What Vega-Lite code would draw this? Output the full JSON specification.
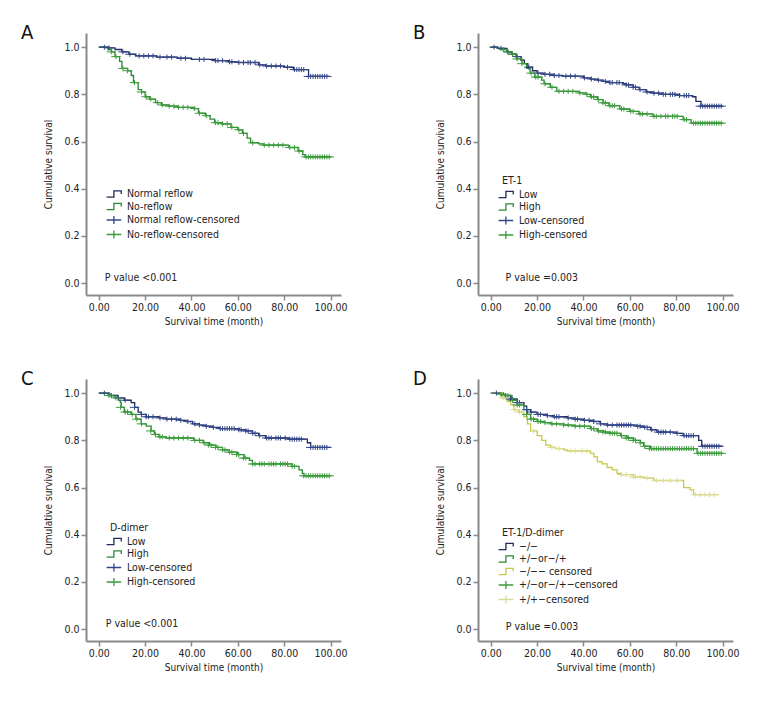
{
"$schema": "https://vega.github.io/schema/vega-lite/v6.json",
"padding": {"left": 21, "top": 23, "right": 5, "bottom": 5},
"config": {"view": {"stroke": null}, "font": "DejaVu Sans Condensed, Liberation Sans, sans-serif",
  "axis": {"grid": false, "domainColor": "#8a8a8a", "domainWidth": 2, "tickColor": "#8a8a8a", "tickWidth": 1.5, "tickSize": 5, "labelFontSize": 10.5, "titleFontSize": 10, "titleFontWeight": "normal", "labelColor": "#222", "titleColor": "#222", "labelFont": "DejaVu Sans Condensed, Liberation Sans, sans-serif", "titleFont": "DejaVu Sans Condensed, Liberation Sans, sans-serif"},
  "legend": {"labelFontSize": 10.5, "titleFontSize": 10.5, "titleFontWeight": "normal", "labelColor": "#222", "titleColor": "#222", "symbolSize": 110, "symbolStrokeWidth": 1.3, "rowPadding": 0.5, "labelOffset": 5, "titlePadding": 2, "labelFont": "DejaVu Sans Condensed, Liberation Sans, sans-serif", "titleFont": "DejaVu Sans Condensed, Liberation Sans, sans-serif"},
  "title": {"font": "DejaVu Sans Condensed, Liberation Sans, sans-serif"}
},
"columns": 2,
"spacing": {"row": 42, "column": 65},
"resolve": {"scale": {"color": "independent", "shape": "independent", "x": "independent", "y": "independent"}, "legend": {"color": "independent", "shape": "independent"}},
"datasets": {
"A_steps": [
{"k":"Normal reflow","t":0,"s":1.0},{"k":"Normal reflow","t":4,"s":0.997},{"k":"Normal reflow","t":7,"s":0.99},{"k":"Normal reflow","t":10,"s":0.98},{"k":"Normal reflow","t":13,"s":0.97},{"k":"Normal reflow","t":16,"s":0.963},{"k":"Normal reflow","t":25,"s":0.958},{"k":"Normal reflow","t":34,"s":0.953},{"k":"Normal reflow","t":40,"s":0.948},{"k":"Normal reflow","t":50,"s":0.943},{"k":"Normal reflow","t":56,"s":0.938},{"k":"Normal reflow","t":60,"s":0.935},{"k":"Normal reflow","t":69,"s":0.925},{"k":"Normal reflow","t":72,"s":0.92},{"k":"Normal reflow","t":80,"s":0.915},{"k":"Normal reflow","t":84,"s":0.905},{"k":"Normal reflow","t":90.5,"s":0.876},{"k":"Normal reflow","t":99.5,"s":0.876},
{"k":"No-reflow","t":0,"s":1.0},{"k":"No-reflow","t":4,"s":0.99},{"k":"No-reflow","t":5.5,"s":0.98},{"k":"No-reflow","t":7,"s":0.96},{"k":"No-reflow","t":9,"s":0.94},{"k":"No-reflow","t":10,"s":0.91},{"k":"No-reflow","t":12.5,"s":0.9},{"k":"No-reflow","t":14,"s":0.88},{"k":"No-reflow","t":15,"s":0.85},{"k":"No-reflow","t":17,"s":0.82},{"k":"No-reflow","t":18.5,"s":0.81},{"k":"No-reflow","t":20,"s":0.79},{"k":"No-reflow","t":22,"s":0.78},{"k":"No-reflow","t":24.5,"s":0.765},{"k":"No-reflow","t":27,"s":0.755},{"k":"No-reflow","t":30,"s":0.75},{"k":"No-reflow","t":34,"s":0.745},{"k":"No-reflow","t":41,"s":0.74},{"k":"No-reflow","t":43,"s":0.72},{"k":"No-reflow","t":46,"s":0.71},{"k":"No-reflow","t":48,"s":0.695},{"k":"No-reflow","t":50,"s":0.68},{"k":"No-reflow","t":53,"s":0.675},{"k":"No-reflow","t":57,"s":0.66},{"k":"No-reflow","t":60,"s":0.65},{"k":"No-reflow","t":62,"s":0.635},{"k":"No-reflow","t":64,"s":0.615},{"k":"No-reflow","t":65.5,"s":0.595},{"k":"No-reflow","t":69,"s":0.59},{"k":"No-reflow","t":71,"s":0.585},{"k":"No-reflow","t":82,"s":0.575},{"k":"No-reflow","t":86,"s":0.56},{"k":"No-reflow","t":88,"s":0.545},{"k":"No-reflow","t":89,"s":0.535},{"k":"No-reflow","t":100,"s":0.535}
],
"A_cens": [
{"k":"Normal reflow-censored","t":3,"s":1.0},{"k":"Normal reflow-censored","t":5,"s":0.997},{"k":"Normal reflow-censored","t":11,"s":0.98},{"k":"Normal reflow-censored","t":14,"s":0.97},{"k":"Normal reflow-censored","t":18,"s":0.963},{"k":"Normal reflow-censored","t":20,"s":0.963},{"k":"Normal reflow-censored","t":22,"s":0.963},{"k":"Normal reflow-censored","t":24,"s":0.963},{"k":"Normal reflow-censored","t":27,"s":0.958},{"k":"Normal reflow-censored","t":30,"s":0.958},{"k":"Normal reflow-censored","t":32,"s":0.958},{"k":"Normal reflow-censored","t":36,"s":0.953},{"k":"Normal reflow-censored","t":38,"s":0.953},{"k":"Normal reflow-censored","t":44,"s":0.948},{"k":"Normal reflow-censored","t":46,"s":0.948},{"k":"Normal reflow-censored","t":51,"s":0.943},{"k":"Normal reflow-censored","t":52,"s":0.943},{"k":"Normal reflow-censored","t":54,"s":0.943},{"k":"Normal reflow-censored","t":57,"s":0.938},{"k":"Normal reflow-censored","t":58,"s":0.938},{"k":"Normal reflow-censored","t":61,"s":0.935},{"k":"Normal reflow-censored","t":63,"s":0.935},{"k":"Normal reflow-censored","t":65,"s":0.935},{"k":"Normal reflow-censored","t":66,"s":0.935},{"k":"Normal reflow-censored","t":68,"s":0.935},{"k":"Normal reflow-censored","t":70,"s":0.925},{"k":"Normal reflow-censored","t":73,"s":0.92},{"k":"Normal reflow-censored","t":75,"s":0.92},{"k":"Normal reflow-censored","t":77,"s":0.92},{"k":"Normal reflow-censored","t":79,"s":0.92},{"k":"Normal reflow-censored","t":82,"s":0.915},{"k":"Normal reflow-censored","t":85,"s":0.905},{"k":"Normal reflow-censored","t":86,"s":0.905},{"k":"Normal reflow-censored","t":87,"s":0.905},{"k":"Normal reflow-censored","t":88,"s":0.905},{"k":"Normal reflow-censored","t":89,"s":0.905},{"k":"Normal reflow-censored","t":91,"s":0.876},{"k":"Normal reflow-censored","t":92,"s":0.876},{"k":"Normal reflow-censored","t":93,"s":0.876},{"k":"Normal reflow-censored","t":94,"s":0.876},{"k":"Normal reflow-censored","t":95,"s":0.876},{"k":"Normal reflow-censored","t":96,"s":0.876},{"k":"Normal reflow-censored","t":97,"s":0.876},{"k":"Normal reflow-censored","t":98,"s":0.876},{"k":"Normal reflow-censored","t":99,"s":0.876},
{"k":"No-reflow-censored","t":6,"s":0.98},{"k":"No-reflow-censored","t":8,"s":0.96},{"k":"No-reflow-censored","t":11,"s":0.91},{"k":"No-reflow-censored","t":13,"s":0.9},{"k":"No-reflow-censored","t":16,"s":0.85},{"k":"No-reflow-censored","t":19,"s":0.81},{"k":"No-reflow-censored","t":21,"s":0.79},{"k":"No-reflow-censored","t":23,"s":0.78},{"k":"No-reflow-censored","t":26,"s":0.765},{"k":"No-reflow-censored","t":28,"s":0.755},{"k":"No-reflow-censored","t":31,"s":0.75},{"k":"No-reflow-censored","t":33,"s":0.75},{"k":"No-reflow-censored","t":35,"s":0.745},{"k":"No-reflow-censored","t":37,"s":0.745},{"k":"No-reflow-censored","t":39,"s":0.745},{"k":"No-reflow-censored","t":42,"s":0.74},{"k":"No-reflow-censored","t":44,"s":0.72},{"k":"No-reflow-censored","t":47,"s":0.71},{"k":"No-reflow-censored","t":51,"s":0.68},{"k":"No-reflow-censored","t":52,"s":0.68},{"k":"No-reflow-censored","t":54,"s":0.675},{"k":"No-reflow-censored","t":56,"s":0.675},{"k":"No-reflow-censored","t":58,"s":0.66},{"k":"No-reflow-censored","t":61,"s":0.65},{"k":"No-reflow-censored","t":63,"s":0.635},{"k":"No-reflow-censored","t":67,"s":0.595},{"k":"No-reflow-censored","t":72,"s":0.585},{"k":"No-reflow-censored","t":74,"s":0.585},{"k":"No-reflow-censored","t":76,"s":0.585},{"k":"No-reflow-censored","t":78,"s":0.585},{"k":"No-reflow-censored","t":80,"s":0.585},{"k":"No-reflow-censored","t":83,"s":0.575},{"k":"No-reflow-censored","t":85,"s":0.575},{"k":"No-reflow-censored","t":87,"s":0.56},{"k":"No-reflow-censored","t":90,"s":0.535},{"k":"No-reflow-censored","t":91,"s":0.535},{"k":"No-reflow-censored","t":92,"s":0.535},{"k":"No-reflow-censored","t":93,"s":0.535},{"k":"No-reflow-censored","t":94,"s":0.535},{"k":"No-reflow-censored","t":95,"s":0.535},{"k":"No-reflow-censored","t":96,"s":0.535},{"k":"No-reflow-censored","t":97,"s":0.535},{"k":"No-reflow-censored","t":98,"s":0.535},{"k":"No-reflow-censored","t":99,"s":0.535},{"k":"No-reflow-censored","t":100,"s":0.535}
],
"B_steps": [
{"k":"Low","t":0,"s":1.0},{"k":"Low","t":3,"s":0.995},{"k":"Low","t":7,"s":0.98},{"k":"Low","t":9,"s":0.97},{"k":"Low","t":11,"s":0.96},{"k":"Low","t":13,"s":0.945},{"k":"Low","t":14.5,"s":0.93},{"k":"Low","t":16,"s":0.915},{"k":"Low","t":18,"s":0.9},{"k":"Low","t":20,"s":0.89},{"k":"Low","t":23,"s":0.885},{"k":"Low","t":27,"s":0.88},{"k":"Low","t":31,"s":0.877},{"k":"Low","t":40,"s":0.87},{"k":"Low","t":43,"s":0.865},{"k":"Low","t":46,"s":0.86},{"k":"Low","t":48.5,"s":0.855},{"k":"Low","t":51,"s":0.85},{"k":"Low","t":57,"s":0.845},{"k":"Low","t":58.5,"s":0.84},{"k":"Low","t":61.5,"s":0.83},{"k":"Low","t":64,"s":0.82},{"k":"Low","t":67,"s":0.81},{"k":"Low","t":70,"s":0.805},{"k":"Low","t":74,"s":0.8},{"k":"Low","t":81.5,"s":0.795},{"k":"Low","t":87,"s":0.79},{"k":"Low","t":88.5,"s":0.77},{"k":"Low","t":90.7,"s":0.75},{"k":"Low","t":100,"s":0.75},
{"k":"High","t":0,"s":1.0},{"k":"High","t":3,"s":0.995},{"k":"High","t":5,"s":0.99},{"k":"High","t":7,"s":0.98},{"k":"High","t":9,"s":0.97},{"k":"High","t":11,"s":0.95},{"k":"High","t":13.5,"s":0.93},{"k":"High","t":15.5,"s":0.91},{"k":"High","t":17,"s":0.89},{"k":"High","t":19,"s":0.873},{"k":"High","t":22,"s":0.86},{"k":"High","t":23,"s":0.845},{"k":"High","t":25.7,"s":0.83},{"k":"High","t":28.5,"s":0.813},{"k":"High","t":38,"s":0.806},{"k":"High","t":41,"s":0.8},{"k":"High","t":43,"s":0.79},{"k":"High","t":46,"s":0.778},{"k":"High","t":48.5,"s":0.764},{"k":"High","t":51,"s":0.752},{"k":"High","t":55.7,"s":0.738},{"k":"High","t":60,"s":0.728},{"k":"High","t":64,"s":0.717},{"k":"High","t":70,"s":0.707},{"k":"High","t":83,"s":0.693},{"k":"High","t":86.4,"s":0.678},{"k":"High","t":100,"s":0.678}
],
"B_cens": [
{"k":"Low-censored","t":2,"s":1.0},{"k":"Low-censored","t":5,"s":0.995},{"k":"Low-censored","t":8,"s":0.98},{"k":"Low-censored","t":10,"s":0.97},{"k":"Low-censored","t":12,"s":0.96},{"k":"Low-censored","t":17,"s":0.915},{"k":"Low-censored","t":21,"s":0.89},{"k":"Low-censored","t":24,"s":0.885},{"k":"Low-censored","t":26,"s":0.885},{"k":"Low-censored","t":28,"s":0.88},{"k":"Low-censored","t":30,"s":0.88},{"k":"Low-censored","t":33,"s":0.877},{"k":"Low-censored","t":35,"s":0.877},{"k":"Low-censored","t":37,"s":0.877},{"k":"Low-censored","t":41,"s":0.87},{"k":"Low-censored","t":44,"s":0.865},{"k":"Low-censored","t":47,"s":0.86},{"k":"Low-censored","t":50,"s":0.855},{"k":"Low-censored","t":52,"s":0.85},{"k":"Low-censored","t":53,"s":0.85},{"k":"Low-censored","t":55,"s":0.85},{"k":"Low-censored","t":56,"s":0.85},{"k":"Low-censored","t":59,"s":0.84},{"k":"Low-censored","t":60,"s":0.84},{"k":"Low-censored","t":62,"s":0.83},{"k":"Low-censored","t":63,"s":0.83},{"k":"Low-censored","t":65,"s":0.82},{"k":"Low-censored","t":68,"s":0.81},{"k":"Low-censored","t":71,"s":0.805},{"k":"Low-censored","t":73,"s":0.805},{"k":"Low-censored","t":75,"s":0.8},{"k":"Low-censored","t":76,"s":0.8},{"k":"Low-censored","t":78,"s":0.8},{"k":"Low-censored","t":79,"s":0.8},{"k":"Low-censored","t":80,"s":0.8},{"k":"Low-censored","t":82,"s":0.795},{"k":"Low-censored","t":84,"s":0.795},{"k":"Low-censored","t":85,"s":0.795},{"k":"Low-censored","t":86,"s":0.795},{"k":"Low-censored","t":91,"s":0.75},{"k":"Low-censored","t":92,"s":0.75},{"k":"Low-censored","t":93,"s":0.75},{"k":"Low-censored","t":94,"s":0.75},{"k":"Low-censored","t":95,"s":0.75},{"k":"Low-censored","t":96,"s":0.75},{"k":"Low-censored","t":97,"s":0.75},{"k":"Low-censored","t":98,"s":0.75},{"k":"Low-censored","t":99,"s":0.75},{"k":"Low-censored","t":100,"s":0.75},
{"k":"High-censored","t":6,"s":0.99},{"k":"High-censored","t":8,"s":0.98},{"k":"High-censored","t":10,"s":0.97},{"k":"High-censored","t":12,"s":0.95},{"k":"High-censored","t":14,"s":0.93},{"k":"High-censored","t":18,"s":0.89},{"k":"High-censored","t":20,"s":0.873},{"k":"High-censored","t":21,"s":0.873},{"k":"High-censored","t":24,"s":0.845},{"k":"High-censored","t":27,"s":0.83},{"k":"High-censored","t":30,"s":0.813},{"k":"High-censored","t":32,"s":0.813},{"k":"High-censored","t":34,"s":0.813},{"k":"High-censored","t":36,"s":0.813},{"k":"High-censored","t":39,"s":0.806},{"k":"High-censored","t":42,"s":0.8},{"k":"High-censored","t":44,"s":0.79},{"k":"High-censored","t":45,"s":0.79},{"k":"High-censored","t":47,"s":0.778},{"k":"High-censored","t":49,"s":0.764},{"k":"High-censored","t":50,"s":0.764},{"k":"High-censored","t":52,"s":0.752},{"k":"High-censored","t":53,"s":0.752},{"k":"High-censored","t":54,"s":0.752},{"k":"High-censored","t":57,"s":0.738},{"k":"High-censored","t":58,"s":0.738},{"k":"High-censored","t":61,"s":0.728},{"k":"High-censored","t":62,"s":0.728},{"k":"High-censored","t":65,"s":0.717},{"k":"High-censored","t":66,"s":0.717},{"k":"High-censored","t":68,"s":0.717},{"k":"High-censored","t":71,"s":0.707},{"k":"High-censored","t":72,"s":0.707},{"k":"High-censored","t":74,"s":0.707},{"k":"High-censored","t":76,"s":0.707},{"k":"High-censored","t":77,"s":0.707},{"k":"High-censored","t":79,"s":0.707},{"k":"High-censored","t":80,"s":0.707},{"k":"High-censored","t":81,"s":0.707},{"k":"High-censored","t":84,"s":0.693},{"k":"High-censored","t":85,"s":0.693},{"k":"High-censored","t":88,"s":0.678},{"k":"High-censored","t":89,"s":0.678},{"k":"High-censored","t":90,"s":0.678},{"k":"High-censored","t":91,"s":0.678},{"k":"High-censored","t":92,"s":0.678},{"k":"High-censored","t":93,"s":0.678},{"k":"High-censored","t":94,"s":0.678},{"k":"High-censored","t":95,"s":0.678},{"k":"High-censored","t":96,"s":0.678},{"k":"High-censored","t":97,"s":0.678},{"k":"High-censored","t":98,"s":0.678},{"k":"High-censored","t":99,"s":0.678},{"k":"High-censored","t":100,"s":0.678}
],
"C_steps": [
{"k":"Low","t":0,"s":1.0},{"k":"Low","t":4.7,"s":0.99},{"k":"Low","t":8.3,"s":0.98},{"k":"Low","t":11,"s":0.97},{"k":"Low","t":14,"s":0.96},{"k":"Low","t":15.5,"s":0.94},{"k":"Low","t":17,"s":0.92},{"k":"Low","t":18.3,"s":0.91},{"k":"Low","t":20.5,"s":0.9},{"k":"Low","t":26,"s":0.895},{"k":"Low","t":29,"s":0.89},{"k":"Low","t":35,"s":0.885},{"k":"Low","t":37.7,"s":0.88},{"k":"Low","t":40.5,"s":0.87},{"k":"Low","t":43.4,"s":0.865},{"k":"Low","t":46,"s":0.86},{"k":"Low","t":49,"s":0.855},{"k":"Low","t":52,"s":0.85},{"k":"Low","t":60.6,"s":0.845},{"k":"Low","t":63.5,"s":0.84},{"k":"Low","t":66.3,"s":0.83},{"k":"Low","t":69,"s":0.82},{"k":"Low","t":72,"s":0.81},{"k":"Low","t":82,"s":0.805},{"k":"Low","t":90,"s":0.79},{"k":"Low","t":91.4,"s":0.77},{"k":"Low","t":100,"s":0.77},
{"k":"High","t":0,"s":1.0},{"k":"High","t":4,"s":0.99},{"k":"High","t":7,"s":0.98},{"k":"High","t":8.5,"s":0.97},{"k":"High","t":9.3,"s":0.96},{"k":"High","t":9.7,"s":0.94},{"k":"High","t":11,"s":0.92},{"k":"High","t":14,"s":0.91},{"k":"High","t":16,"s":0.89},{"k":"High","t":18.3,"s":0.87},{"k":"High","t":20.5,"s":0.86},{"k":"High","t":22.6,"s":0.84},{"k":"High","t":24,"s":0.825},{"k":"High","t":26,"s":0.815},{"k":"High","t":29,"s":0.81},{"k":"High","t":41,"s":0.8},{"k":"High","t":45,"s":0.79},{"k":"High","t":47.7,"s":0.78},{"k":"High","t":50.6,"s":0.77},{"k":"High","t":53.4,"s":0.76},{"k":"High","t":56.3,"s":0.75},{"k":"High","t":59.9,"s":0.74},{"k":"High","t":62.7,"s":0.725},{"k":"High","t":65,"s":0.715},{"k":"High","t":66.3,"s":0.7},{"k":"High","t":83.5,"s":0.69},{"k":"High","t":86.4,"s":0.675},{"k":"High","t":87.8,"s":0.66},{"k":"High","t":88.5,"s":0.65},{"k":"High","t":100,"s":0.65}
],
"C_cens": [
{"k":"Low-censored","t":3,"s":1.0},{"k":"Low-censored","t":6,"s":0.99},{"k":"Low-censored","t":9,"s":0.98},{"k":"Low-censored","t":12,"s":0.97},{"k":"Low-censored","t":16,"s":0.94},{"k":"Low-censored","t":19,"s":0.91},{"k":"Low-censored","t":21,"s":0.9},{"k":"Low-censored","t":22,"s":0.9},{"k":"Low-censored","t":24,"s":0.9},{"k":"Low-censored","t":27,"s":0.895},{"k":"Low-censored","t":30,"s":0.89},{"k":"Low-censored","t":32,"s":0.89},{"k":"Low-censored","t":34,"s":0.89},{"k":"Low-censored","t":36,"s":0.885},{"k":"Low-censored","t":39,"s":0.88},{"k":"Low-censored","t":42,"s":0.87},{"k":"Low-censored","t":44,"s":0.865},{"k":"Low-censored","t":47,"s":0.86},{"k":"Low-censored","t":50,"s":0.855},{"k":"Low-censored","t":53,"s":0.85},{"k":"Low-censored","t":54,"s":0.85},{"k":"Low-censored","t":55,"s":0.85},{"k":"Low-censored","t":56,"s":0.85},{"k":"Low-censored","t":57,"s":0.85},{"k":"Low-censored","t":58,"s":0.85},{"k":"Low-censored","t":59,"s":0.85},{"k":"Low-censored","t":61,"s":0.845},{"k":"Low-censored","t":62,"s":0.845},{"k":"Low-censored","t":64,"s":0.84},{"k":"Low-censored","t":65,"s":0.84},{"k":"Low-censored","t":67,"s":0.83},{"k":"Low-censored","t":68,"s":0.83},{"k":"Low-censored","t":70,"s":0.82},{"k":"Low-censored","t":73,"s":0.81},{"k":"Low-censored","t":74,"s":0.81},{"k":"Low-censored","t":75,"s":0.81},{"k":"Low-censored","t":77,"s":0.81},{"k":"Low-censored","t":78,"s":0.81},{"k":"Low-censored","t":79,"s":0.81},{"k":"Low-censored","t":81,"s":0.81},{"k":"Low-censored","t":83,"s":0.805},{"k":"Low-censored","t":84,"s":0.805},{"k":"Low-censored","t":85,"s":0.805},{"k":"Low-censored","t":86,"s":0.805},{"k":"Low-censored","t":87,"s":0.805},{"k":"Low-censored","t":88,"s":0.805},{"k":"Low-censored","t":92,"s":0.77},{"k":"Low-censored","t":93,"s":0.77},{"k":"Low-censored","t":94,"s":0.77},{"k":"Low-censored","t":95,"s":0.77},{"k":"Low-censored","t":96,"s":0.77},{"k":"Low-censored","t":97,"s":0.77},{"k":"Low-censored","t":98,"s":0.77},{"k":"Low-censored","t":99,"s":0.77},
{"k":"High-censored","t":5,"s":0.99},{"k":"High-censored","t":8,"s":0.98},{"k":"High-censored","t":10,"s":0.94},{"k":"High-censored","t":12,"s":0.92},{"k":"High-censored","t":13,"s":0.92},{"k":"High-censored","t":15,"s":0.91},{"k":"High-censored","t":17,"s":0.89},{"k":"High-censored","t":19,"s":0.87},{"k":"High-censored","t":23,"s":0.84},{"k":"High-censored","t":25,"s":0.825},{"k":"High-censored","t":27,"s":0.815},{"k":"High-censored","t":28,"s":0.815},{"k":"High-censored","t":31,"s":0.81},{"k":"High-censored","t":33,"s":0.81},{"k":"High-censored","t":35,"s":0.81},{"k":"High-censored","t":37,"s":0.81},{"k":"High-censored","t":39,"s":0.81},{"k":"High-censored","t":42,"s":0.8},{"k":"High-censored","t":44,"s":0.8},{"k":"High-censored","t":46,"s":0.79},{"k":"High-censored","t":48,"s":0.78},{"k":"High-censored","t":49,"s":0.78},{"k":"High-censored","t":51,"s":0.77},{"k":"High-censored","t":52,"s":0.77},{"k":"High-censored","t":54,"s":0.76},{"k":"High-censored","t":55,"s":0.76},{"k":"High-censored","t":57,"s":0.75},{"k":"High-censored","t":58,"s":0.75},{"k":"High-censored","t":60,"s":0.74},{"k":"High-censored","t":61,"s":0.74},{"k":"High-censored","t":63,"s":0.725},{"k":"High-censored","t":64,"s":0.725},{"k":"High-censored","t":67,"s":0.7},{"k":"High-censored","t":68,"s":0.7},{"k":"High-censored","t":70,"s":0.7},{"k":"High-censored","t":71,"s":0.7},{"k":"High-censored","t":72,"s":0.7},{"k":"High-censored","t":74,"s":0.7},{"k":"High-censored","t":75,"s":0.7},{"k":"High-censored","t":76,"s":0.7},{"k":"High-censored","t":77,"s":0.7},{"k":"High-censored","t":79,"s":0.7},{"k":"High-censored","t":80,"s":0.7},{"k":"High-censored","t":81,"s":0.7},{"k":"High-censored","t":82,"s":0.7},{"k":"High-censored","t":84,"s":0.69},{"k":"High-censored","t":85,"s":0.69},{"k":"High-censored","t":89,"s":0.65},{"k":"High-censored","t":90,"s":0.65},{"k":"High-censored","t":91,"s":0.65},{"k":"High-censored","t":92,"s":0.65},{"k":"High-censored","t":93,"s":0.65},{"k":"High-censored","t":94,"s":0.65},{"k":"High-censored","t":95,"s":0.65},{"k":"High-censored","t":96,"s":0.65},{"k":"High-censored","t":97,"s":0.65},{"k":"High-censored","t":98,"s":0.65},{"k":"High-censored","t":99,"s":0.65},{"k":"High-censored","t":100,"s":0.65}
],
"D_steps": [
{"k":"−/−","t":0,"s":1.0},{"k":"−/−","t":5.5,"s":0.99},{"k":"−/−","t":8.6,"s":0.975},{"k":"−/−","t":11.5,"s":0.96},{"k":"−/−","t":14.3,"s":0.945},{"k":"−/−","t":15.5,"s":0.93},{"k":"−/−","t":17.2,"s":0.92},{"k":"−/−","t":20,"s":0.91},{"k":"−/−","t":24,"s":0.905},{"k":"−/−","t":27,"s":0.9},{"k":"−/−","t":33,"s":0.895},{"k":"−/−","t":36,"s":0.89},{"k":"−/−","t":40,"s":0.885},{"k":"−/−","t":44.5,"s":0.88},{"k":"−/−","t":47.3,"s":0.87},{"k":"−/−","t":50,"s":0.865},{"k":"−/−","t":63,"s":0.86},{"k":"−/−","t":66,"s":0.855},{"k":"−/−","t":69,"s":0.845},{"k":"−/−","t":71.7,"s":0.835},{"k":"−/−","t":80,"s":0.83},{"k":"−/−","t":83,"s":0.82},{"k":"−/−","t":89.7,"s":0.8},{"k":"−/−","t":91,"s":0.775},{"k":"−/−","t":100,"s":0.775},
{"k":"+/−or−/+","t":0,"s":1.0},{"k":"+/−or−/+","t":4,"s":0.995},{"k":"+/−or−/+","t":6,"s":0.99},{"k":"+/−or−/+","t":9,"s":0.97},{"k":"+/−or−/+","t":11.5,"s":0.95},{"k":"+/−or−/+","t":14.3,"s":0.93},{"k":"+/−or−/+","t":15.8,"s":0.91},{"k":"+/−or−/+","t":17.2,"s":0.89},{"k":"+/−or−/+","t":20,"s":0.88},{"k":"+/−or−/+","t":23,"s":0.875},{"k":"+/−or−/+","t":26,"s":0.87},{"k":"+/−or−/+","t":31.6,"s":0.865},{"k":"+/−or−/+","t":36,"s":0.86},{"k":"+/−or−/+","t":43,"s":0.85},{"k":"+/−or−/+","t":46,"s":0.84},{"k":"+/−or−/+","t":48.8,"s":0.835},{"k":"+/−or−/+","t":51.6,"s":0.83},{"k":"+/−or−/+","t":56,"s":0.82},{"k":"+/−or−/+","t":58.8,"s":0.81},{"k":"+/−or−/+","t":61.7,"s":0.8},{"k":"+/−or−/+","t":64.6,"s":0.79},{"k":"+/−or−/+","t":66,"s":0.775},{"k":"+/−or−/+","t":68.9,"s":0.765},{"k":"+/−or−/+","t":89,"s":0.745},{"k":"+/−or−/+","t":100,"s":0.745},
{"k":"−/−− censored","t":0,"s":1.0},{"k":"−/−− censored","t":5,"s":0.98},{"k":"−/−− censored","t":7,"s":0.965},{"k":"−/−− censored","t":8.6,"s":0.95},{"k":"−/−− censored","t":10,"s":0.93},{"k":"−/−− censored","t":12,"s":0.92},{"k":"−/−− censored","t":14.3,"s":0.9},{"k":"−/−− censored","t":15.8,"s":0.87},{"k":"−/−− censored","t":17.2,"s":0.84},{"k":"−/−− censored","t":20,"s":0.82},{"k":"−/−− censored","t":22,"s":0.8},{"k":"−/−− censored","t":23.7,"s":0.78},{"k":"−/−− censored","t":25.8,"s":0.77},{"k":"−/−− censored","t":28,"s":0.765},{"k":"−/−− censored","t":31.6,"s":0.76},{"k":"−/−− censored","t":33,"s":0.755},{"k":"−/−− censored","t":43,"s":0.745},{"k":"−/−− censored","t":44.5,"s":0.73},{"k":"−/−− censored","t":46,"s":0.71},{"k":"−/−− censored","t":48,"s":0.7},{"k":"−/−− censored","t":50.2,"s":0.685},{"k":"−/−− censored","t":52.4,"s":0.675},{"k":"−/−− censored","t":54.5,"s":0.66},{"k":"−/−− censored","t":56,"s":0.655},{"k":"−/−− censored","t":61.7,"s":0.645},{"k":"−/−− censored","t":66,"s":0.64},{"k":"−/−− censored","t":70.3,"s":0.63},{"k":"−/−− censored","t":83.2,"s":0.6},{"k":"−/−− censored","t":86,"s":0.59},{"k":"−/−− censored","t":87.5,"s":0.57},{"k":"−/−− censored","t":98.3,"s":0.57}
],
"D_cens": [
{"k":"−/−−censored","t":3,"s":1.0},{"k":"−/−−censored","t":7,"s":0.99},{"k":"−/−−censored","t":9,"s":0.975},{"k":"−/−−censored","t":10,"s":0.975},{"k":"−/−−censored","t":12,"s":0.96},{"k":"−/−−censored","t":13,"s":0.96},{"k":"−/−−censored","t":16,"s":0.93},{"k":"−/−−censored","t":18,"s":0.92},{"k":"−/−−censored","t":21,"s":0.91},{"k":"−/−−censored","t":22,"s":0.91},{"k":"−/−−censored","t":25,"s":0.905},{"k":"−/−−censored","t":28,"s":0.9},{"k":"−/−−censored","t":29,"s":0.9},{"k":"−/−−censored","t":30,"s":0.9},{"k":"−/−−censored","t":34,"s":0.895},{"k":"−/−−censored","t":37,"s":0.89},{"k":"−/−−censored","t":38,"s":0.89},{"k":"−/−−censored","t":41,"s":0.885},{"k":"−/−−censored","t":43,"s":0.885},{"k":"−/−−censored","t":45,"s":0.88},{"k":"−/−−censored","t":48,"s":0.87},{"k":"−/−−censored","t":51,"s":0.865},{"k":"−/−−censored","t":53,"s":0.865},{"k":"−/−−censored","t":55,"s":0.865},{"k":"−/−−censored","t":56,"s":0.865},{"k":"−/−−censored","t":57,"s":0.865},{"k":"−/−−censored","t":58,"s":0.865},{"k":"−/−−censored","t":59,"s":0.865},{"k":"−/−−censored","t":60,"s":0.865},{"k":"−/−−censored","t":61,"s":0.865},{"k":"−/−−censored","t":64,"s":0.86},{"k":"−/−−censored","t":65,"s":0.86},{"k":"−/−−censored","t":67,"s":0.855},{"k":"−/−−censored","t":68,"s":0.855},{"k":"−/−−censored","t":70,"s":0.845},{"k":"−/−−censored","t":73,"s":0.835},{"k":"−/−−censored","t":74,"s":0.835},{"k":"−/−−censored","t":75,"s":0.835},{"k":"−/−−censored","t":76,"s":0.835},{"k":"−/−−censored","t":78,"s":0.835},{"k":"−/−−censored","t":81,"s":0.83},{"k":"−/−−censored","t":84,"s":0.82},{"k":"−/−−censored","t":85,"s":0.82},{"k":"−/−−censored","t":86,"s":0.82},{"k":"−/−−censored","t":87,"s":0.82},{"k":"−/−−censored","t":88,"s":0.82},{"k":"−/−−censored","t":92,"s":0.775},{"k":"−/−−censored","t":93,"s":0.775},{"k":"−/−−censored","t":94,"s":0.775},{"k":"−/−−censored","t":95,"s":0.775},{"k":"−/−−censored","t":96,"s":0.775},{"k":"−/−−censored","t":97,"s":0.775},{"k":"−/−−censored","t":98,"s":0.775},{"k":"−/−−censored","t":99,"s":0.775},
{"k":"+/−or−/+−censored","t":5,"s":0.995},{"k":"+/−or−/+−censored","t":7,"s":0.99},{"k":"+/−or−/+−censored","t":8,"s":0.99},{"k":"+/−or−/+−censored","t":10,"s":0.97},{"k":"+/−or−/+−censored","t":12,"s":0.95},{"k":"+/−or−/+−censored","t":13,"s":0.95},{"k":"+/−or−/+−censored","t":16,"s":0.91},{"k":"+/−or−/+−censored","t":18,"s":0.89},{"k":"+/−or−/+−censored","t":19,"s":0.89},{"k":"+/−or−/+−censored","t":21,"s":0.88},{"k":"+/−or−/+−censored","t":22,"s":0.88},{"k":"+/−or−/+−censored","t":24,"s":0.875},{"k":"+/−or−/+−censored","t":27,"s":0.87},{"k":"+/−or−/+−censored","t":29,"s":0.87},{"k":"+/−or−/+−censored","t":32,"s":0.865},{"k":"+/−or−/+−censored","t":34,"s":0.865},{"k":"+/−or−/+−censored","t":37,"s":0.86},{"k":"+/−or−/+−censored","t":39,"s":0.86},{"k":"+/−or−/+−censored","t":41,"s":0.86},{"k":"+/−or−/+−censored","t":44,"s":0.85},{"k":"+/−or−/+−censored","t":45,"s":0.85},{"k":"+/−or−/+−censored","t":47,"s":0.84},{"k":"+/−or−/+−censored","t":49,"s":0.835},{"k":"+/−or−/+−censored","t":50,"s":0.835},{"k":"+/−or−/+−censored","t":52,"s":0.83},{"k":"+/−or−/+−censored","t":53,"s":0.83},{"k":"+/−or−/+−censored","t":54,"s":0.83},{"k":"+/−or−/+−censored","t":55,"s":0.83},{"k":"+/−or−/+−censored","t":57,"s":0.82},{"k":"+/−or−/+−censored","t":59,"s":0.81},{"k":"+/−or−/+−censored","t":60,"s":0.81},{"k":"+/−or−/+−censored","t":62,"s":0.8},{"k":"+/−or−/+−censored","t":63,"s":0.8},{"k":"+/−or−/+−censored","t":65,"s":0.79},{"k":"+/−or−/+−censored","t":67,"s":0.775},{"k":"+/−or−/+−censored","t":69,"s":0.765},{"k":"+/−or−/+−censored","t":70,"s":0.765},{"k":"+/−or−/+−censored","t":71,"s":0.765},{"k":"+/−or−/+−censored","t":72,"s":0.765},{"k":"+/−or−/+−censored","t":73,"s":0.765},{"k":"+/−or−/+−censored","t":74,"s":0.765},{"k":"+/−or−/+−censored","t":75,"s":0.765},{"k":"+/−or−/+−censored","t":76,"s":0.765},{"k":"+/−or−/+−censored","t":77,"s":0.765},{"k":"+/−or−/+−censored","t":78,"s":0.765},{"k":"+/−or−/+−censored","t":79,"s":0.765},{"k":"+/−or−/+−censored","t":80,"s":0.765},{"k":"+/−or−/+−censored","t":81,"s":0.765},{"k":"+/−or−/+−censored","t":82,"s":0.765},{"k":"+/−or−/+−censored","t":83,"s":0.765},{"k":"+/−or−/+−censored","t":84,"s":0.765},{"k":"+/−or−/+−censored","t":85,"s":0.765},{"k":"+/−or−/+−censored","t":86,"s":0.765},{"k":"+/−or−/+−censored","t":87,"s":0.765},{"k":"+/−or−/+−censored","t":88,"s":0.765},{"k":"+/−or−/+−censored","t":90,"s":0.745},{"k":"+/−or−/+−censored","t":91,"s":0.745},{"k":"+/−or−/+−censored","t":92,"s":0.745},{"k":"+/−or−/+−censored","t":93,"s":0.745},{"k":"+/−or−/+−censored","t":94,"s":0.745},{"k":"+/−or−/+−censored","t":95,"s":0.745},{"k":"+/−or−/+−censored","t":96,"s":0.745},{"k":"+/−or−/+−censored","t":97,"s":0.745},{"k":"+/−or−/+−censored","t":98,"s":0.745},{"k":"+/−or−/+−censored","t":99,"s":0.745},{"k":"+/−or−/+−censored","t":100,"s":0.745},
{"k":"+/+−censored","t":6,"s":0.98},{"k":"+/+−censored","t":11,"s":0.93},{"k":"+/+−censored","t":13,"s":0.92},{"k":"+/+−censored","t":19,"s":0.84},{"k":"+/+−censored","t":27,"s":0.77},{"k":"+/+−censored","t":30,"s":0.765},{"k":"+/+−censored","t":35,"s":0.755},{"k":"+/+−censored","t":37,"s":0.755},{"k":"+/+−censored","t":40,"s":0.755},{"k":"+/+−censored","t":42,"s":0.755},{"k":"+/+−censored","t":57,"s":0.655},{"k":"+/+−censored","t":59,"s":0.655},{"k":"+/+−censored","t":62,"s":0.645},{"k":"+/+−censored","t":63,"s":0.645},{"k":"+/+−censored","t":65,"s":0.645},{"k":"+/+−censored","t":68,"s":0.64},{"k":"+/+−censored","t":72,"s":0.63},{"k":"+/+−censored","t":75,"s":0.63},{"k":"+/+−censored","t":78,"s":0.63},{"k":"+/+−censored","t":81,"s":0.63},{"k":"+/+−censored","t":89,"s":0.57},{"k":"+/+−censored","t":91,"s":0.57},{"k":"+/+−censored","t":93,"s":0.57},{"k":"+/+−censored","t":95,"s":0.57},{"k":"+/+−censored","t":97,"s":0.57}
]
},
"concat": [
{
 "width": 255, "height": 262,
 "title": {"text": "A", "anchor": "start", "frame": "group", "dx": -65, "offset": -10, "fontSize": 20, "fontWeight": "normal", "color": "#111"},
 "encoding": {
  "x": {"field": "t", "type": "quantitative", "scale": {"domain": [-5.5, 104.5], "nice": false, "zero": false}, "axis": {"title": "Survival time (month)", "values": [0,20,40,60,80,100], "format": ".2f"}},
  "y": {"field": "s", "type": "quantitative", "scale": {"domain": [-0.05, 1.06], "nice": false, "zero": false}, "axis": {"title": "Cumulative survival", "values": [0,0.2,0.4,0.6,0.8,1.0], "format": ".1f", "titlePadding": 10}}
 },
 "layer": [
  {"data": {"name": "A_steps"}, "mark": {"type": "line", "interpolate": "step-after", "strokeWidth": 1.3},
   "encoding": {"color": {"field": "k", "type": "nominal", "scale": {"domain": ["Normal reflow","No-reflow","Normal reflow-censored","No-reflow-censored"], "range": ["#1e2b5e","#2a8a30","#34478a","#3c9c3c"]}, "legend": {"title": null, "orient": "none", "legendX": 24, "legendY": 155}}}},
  {"data": {"name": "A_cens"}, "mark": {"type": "point", "filled": false, "size": 45, "strokeWidth": 1, "opacity": 1},
   "encoding": {"color": {"field": "k", "type": "nominal"}, "shape": {"field": "k", "type": "nominal", "scale": {"domain": ["Normal reflow","No-reflow","Normal reflow-censored","No-reflow-censored"], "range": ["M-1.8,0.6H-0.4V-0.6H1V0","M-1.8,0.6H-0.4V-0.6H1V0","M-1.8,0H1M-0.4,-0.75V0.75","M-1.8,0H1M-0.4,-0.75V0.75"]}, "legend": {"title": null, "orient": "none", "legendX": 24, "legendY": 155}}}},
  {"data": {"values": [{"t": 2.6, "s": 0.02, "label": "P value <0.001"}]}, "mark": {"type": "text", "align": "left", "baseline": "middle", "fontSize": 10.5, "color": "#222"},
   "encoding": {"text": {"field": "label", "type": "nominal"}}}
 ]
},
{
 "width": 255, "height": 262,
 "title": {"text": "B", "anchor": "start", "frame": "group", "dx": -65, "offset": -10, "fontSize": 20, "fontWeight": "normal", "color": "#111"},
 "encoding": {
  "x": {"field": "t", "type": "quantitative", "scale": {"domain": [-5.5, 104.5], "nice": false, "zero": false}, "axis": {"title": "Survival time (month)", "values": [0,20,40,60,80,100], "format": ".2f"}},
  "y": {"field": "s", "type": "quantitative", "scale": {"domain": [-0.05, 1.06], "nice": false, "zero": false}, "axis": {"title": "Cumulative survival", "values": [0,0.2,0.4,0.6,0.8,1.0], "format": ".1f", "titlePadding": 10}}
 },
 "layer": [
  {"data": {"name": "B_steps"}, "mark": {"type": "line", "interpolate": "step-after", "strokeWidth": 1.3},
   "encoding": {"color": {"field": "k", "type": "nominal", "scale": {"domain": ["Low","High","Low-censored","High-censored"], "range": ["#1e2b5e","#2a8a30","#34478a","#3c9c3c"]}, "legend": {"title": "ET-1", "orient": "none", "legendX": 24, "legendY": 143}}}},
  {"data": {"name": "B_cens"}, "mark": {"type": "point", "filled": false, "size": 45, "strokeWidth": 1, "opacity": 1},
   "encoding": {"color": {"field": "k", "type": "nominal"}, "shape": {"field": "k", "type": "nominal", "scale": {"domain": ["Low","High","Low-censored","High-censored"], "range": ["M-1.8,0.6H-0.4V-0.6H1V0","M-1.8,0.6H-0.4V-0.6H1V0","M-1.8,0H1M-0.4,-0.75V0.75","M-1.8,0H1M-0.4,-0.75V0.75"]}, "legend": {"title": "ET-1", "orient": "none", "legendX": 24, "legendY": 143}}}},
  {"data": {"values": [{"t": 6.4, "s": 0.02, "label": "P value =0.003"}]}, "mark": {"type": "text", "align": "left", "baseline": "middle", "fontSize": 10.5, "color": "#222"},
   "encoding": {"text": {"field": "label", "type": "nominal"}}}
 ]
},
{
 "width": 255, "height": 262,
 "title": {"text": "C", "anchor": "start", "frame": "group", "dx": -65, "offset": -10, "fontSize": 20, "fontWeight": "normal", "color": "#111"},
 "encoding": {
  "x": {"field": "t", "type": "quantitative", "scale": {"domain": [-5.5, 104.5], "nice": false, "zero": false}, "axis": {"title": "Survival time (month)", "values": [0,20,40,60,80,100], "format": ".2f"}},
  "y": {"field": "s", "type": "quantitative", "scale": {"domain": [-0.05, 1.06], "nice": false, "zero": false}, "axis": {"title": "Cumulative survival", "values": [0,0.2,0.4,0.6,0.8,1.0], "format": ".1f", "titlePadding": 10}}
 },
 "layer": [
  {"data": {"name": "C_steps"}, "mark": {"type": "line", "interpolate": "step-after", "strokeWidth": 1.3},
   "encoding": {"color": {"field": "k", "type": "nominal", "scale": {"domain": ["Low","High","Low-censored","High-censored"], "range": ["#1e2b5e","#2a8a30","#34478a","#3c9c3c"]}, "legend": {"title": "D-dimer", "orient": "none", "legendX": 24, "legendY": 144}}}},
  {"data": {"name": "C_cens"}, "mark": {"type": "point", "filled": false, "size": 45, "strokeWidth": 1, "opacity": 1},
   "encoding": {"color": {"field": "k", "type": "nominal"}, "shape": {"field": "k", "type": "nominal", "scale": {"domain": ["Low","High","Low-censored","High-censored"], "range": ["M-1.8,0.6H-0.4V-0.6H1V0","M-1.8,0.6H-0.4V-0.6H1V0","M-1.8,0H1M-0.4,-0.75V0.75","M-1.8,0H1M-0.4,-0.75V0.75"]}, "legend": {"title": "D-dimer", "orient": "none", "legendX": 24, "legendY": 144}}}},
  {"data": {"values": [{"t": 3, "s": 0.02, "label": "P value <0.001"}]}, "mark": {"type": "text", "align": "left", "baseline": "middle", "fontSize": 10.5, "color": "#222"},
   "encoding": {"text": {"field": "label", "type": "nominal"}}}
 ]
},
{
 "width": 255, "height": 262,
 "title": {"text": "D", "anchor": "start", "frame": "group", "dx": -65, "offset": -10, "fontSize": 20, "fontWeight": "normal", "color": "#111"},
 "encoding": {
  "x": {"field": "t", "type": "quantitative", "scale": {"domain": [-5.5, 104.5], "nice": false, "zero": false}, "axis": {"title": "Survival time (month)", "values": [0,20,40,60,80,100], "format": ".2f"}},
  "y": {"field": "s", "type": "quantitative", "scale": {"domain": [-0.05, 1.06], "nice": false, "zero": false}, "axis": {"title": "Cumulative survival", "values": [0,0.2,0.4,0.6,0.8,1.0], "format": ".1f", "titlePadding": 10}}
 },
 "layer": [
  {"data": {"name": "D_steps"}, "mark": {"type": "line", "interpolate": "step-after", "strokeWidth": 1.3},
   "encoding": {"color": {"field": "k", "type": "nominal", "scale": {"domain": ["−/−","+/−or−/+","−/−− censored","−/−−censored","+/−or−/+−censored","+/+−censored"], "range": ["#1e2b5e","#2a8a30","#c9c84a","#34478a","#3c9c3c","#dcdc9a"]}, "legend": {"title": "ET-1/D-dimer", "orient": "none", "legendX": 24, "legendY": 149, "values": ["−/−","+/−or−/+","−/−− censored","+/−or−/+−censored","+/+−censored"]}}}},
  {"data": {"name": "D_cens"}, "mark": {"type": "point", "filled": false, "size": 45, "strokeWidth": 1, "opacity": 1},
   "encoding": {"color": {"field": "k", "type": "nominal"}, "shape": {"field": "k", "type": "nominal", "scale": {"domain": ["−/−","+/−or−/+","−/−− censored","−/−−censored","+/−or−/+−censored","+/+−censored"], "range": ["M-1.8,0.6H-0.4V-0.6H1V0","M-1.8,0.6H-0.4V-0.6H1V0","M-1.8,0.6H-0.4V-0.6H1V0","M-1.8,0H1M-0.4,-0.75V0.75","M-1.8,0H1M-0.4,-0.75V0.75","M-1.8,0H1M-0.4,-0.75V0.75"]}, "legend": {"title": "ET-1/D-dimer", "orient": "none", "legendX": 24, "legendY": 149, "values": ["−/−","+/−or−/+","−/−− censored","+/−or−/+−censored","+/+−censored"]}}}},
  {"data": {"values": [{"t": 6.5, "s": 0.01, "label": "P value =0.003"}]}, "mark": {"type": "text", "align": "left", "baseline": "middle", "fontSize": 10.5, "color": "#222"},
   "encoding": {"text": {"field": "label", "type": "nominal"}}}
 ]
}
]
}
